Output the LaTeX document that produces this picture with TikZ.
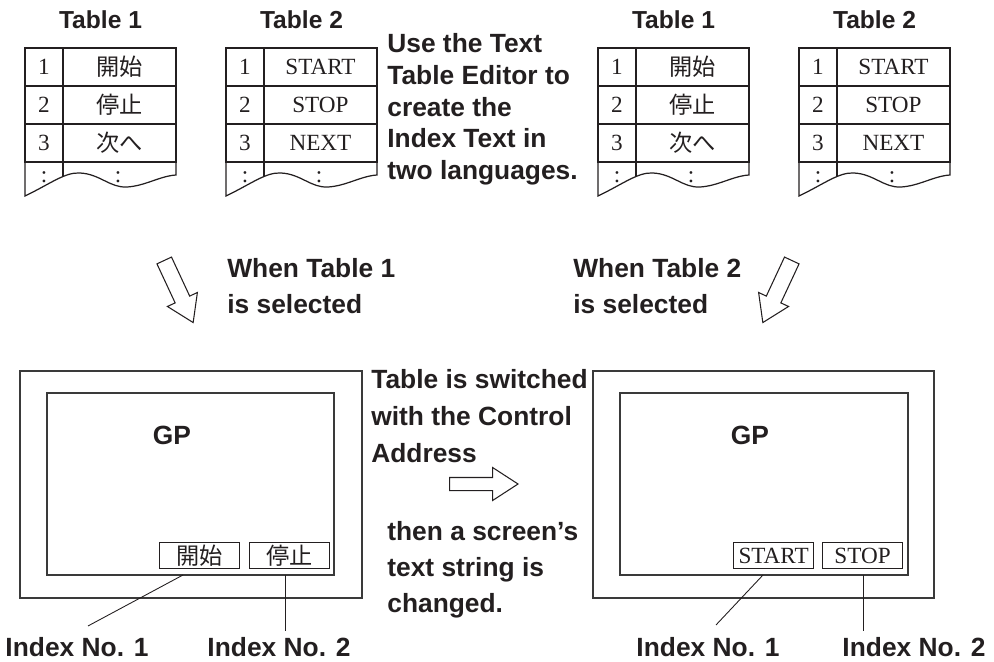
\documentclass[tikz,border=0pt]{standalone}
\usepackage{fontspec}
\setmainfont{Liberation Serif}
\setsansfont{Liberation Sans}
\newfontfamily\cjk{Noto Sans CJK JP}
\usetikzlibrary{positioning,calc,shapes.arrows}
\definecolor{ink}{HTML}{231F20}
\definecolor{framegray}{HTML}{3A3A3A}

\begin{document}
\begin{tikzpicture}[x=0.02cm,y=-0.02cm,
    lbl/.style={font=\sffamily\bfseries\fontsize{15}{20.5}\selectfont,text=ink,inner sep=0pt,align=left},
    ttl/.style={lbl,font=\sffamily\bfseries\fontsize{14}{17}\selectfont},
    numcell/.style={draw=ink,line width=0.7pt,minimum width=0.76cm,minimum height=0.76cm,inner sep=0pt,outer sep=0pt,font=\fontsize{13.2}{14}\selectfont,text=ink},
    txtcell/.style={numcell,minimum width=2.26cm},
    rule/.style={draw=ink,line width=0.7pt},
    hollow/.style={single arrow,draw=ink,line width=0.6pt,minimum height=1.37cm,inner sep=0.15cm,single arrow head extend=0.17cm,single arrow tip angle=66,anchor=tail},
    frame/.style={draw=framegray,line width=0.9pt},
    btn/.style={draw=ink,line width=0.7pt,minimum width=1.6cm,minimum height=0.52cm,inner sep=0pt,font=\fontsize{13.2}{14}\selectfont,text=ink},
    lead/.style={draw=ink,line width=0.5pt}]
  \useasboundingbox (0,0) rectangle (994,662);

  % the four text tables
  \foreach \t/\x/\n/\ra/\rb/\rc in {a/25/1/\cjk 開始/\cjk 停止/\cjk 次へ, b/226/2/START/STOP/NEXT,
      c/598/1/\cjk 開始/\cjk 停止/\cjk 次へ, d/799/2/START/STOP/NEXT} {
    \node[ttl] (\t-ttl) at (\x+75.5,20) {Table \n};
    \node[numcell,anchor=north west] (\t-n1) at (\x,48) {1};
    \node[txtcell,right=0pt of \t-n1] (\t-t1) {\ra};
    \node[numcell,below=0pt of \t-n1] (\t-n2) {2};
    \node[txtcell,right=0pt of \t-n2] (\t-t2) {\rb};
    \node[numcell,below=0pt of \t-n2] (\t-n3) {3};
    \node[txtcell,right=0pt of \t-n3] (\t-t3) {\rc};
    \draw[rule] (\t-n3.south west) -- (\x,196)
      .. controls (\x+25,184) and (\x+40,172) .. (\x+55,173)
      .. controls (\x+75,174) and (\x+85,188) .. (\x+102,187)
      .. controls (\x+120,186) and (\x+135,176) .. (\x+151,175) -- (\t-t3.south east);
    \draw[rule] (\t-n3.south east) -- ++(0,15);
    \node[numcell,draw=none,minimum size=0pt] (\t-d1) at (\x+19,177) {:};
    \node[numcell,draw=none,minimum size=0pt] (\t-d2) at (\x+93,177) {:};
  }

  \node[lbl,anchor=north west,font=\sffamily\bfseries\fontsize{15}{18.1}\selectfont] (howto) at (387,33)
    {Use the Text\\Table Editor to\\create the\\Index Text in\\two languages.};

  % selection arrows
  \node[hollow,rotate=-65] (selA) at (164,260) {};
  \node[lbl,anchor=north west] (whenA) at (227,258) {When Table 1\\is selected};
  \node[hollow,rotate=-115] (selB) at (792,260) {};
  \node[lbl,anchor=north west] (whenB) at (573,258) {When Table 2\\is selected};

  % left screen
  \draw[frame] (20,371) rectangle (362,598);
  \draw[frame,line width=0.7pt] (47,393) rectangle (334,575);
  \node[lbl] (l-gp) at (172,435) {GP};
  \node[btn,anchor=north west] (l-b1) at (159,542) {\cjk 開始};
  \node[btn,anchor=north west] (l-b2) at (249,542) {\cjk 停止};
  \coordinate (l-p1) at (183,575);
  \coordinate (l-p2) at (285,575);
  \node[lbl] (l-idx1) at (77,647) {Index No. 1};
  \node[lbl] (l-idx2) at (279,647) {Index No. 2};
  \draw[lead] (l-p1) -- ($(l-idx1.north)+(11,-11)$);
  \draw[lead,shorten >=0.12cm] (l-p2) -- (l-p2 |- l-idx2.north);

  % switching note
  \node[lbl,anchor=north west,font=\sffamily\bfseries\fontsize{15}{21}\selectfont] (switch) at (371,369)
    {Table is switched\\with the Control\\Address};
  \node[hollow,inner sep=0.12cm,single arrow head extend=0.2cm] (swArr) at (449,484) {};
  \node[lbl,anchor=north west] (change) at (387,521)
    {then a screen’s\\text string is\\changed.};

  % right screen
  \draw[frame] (593,371) rectangle (934,598);
  \draw[frame,line width=0.7pt] (620,393) rectangle (908,575);
  \node[lbl] (r-gp) at (750,435) {GP};
  \node[btn,anchor=north west] (r-b1) at (733,542) {START};
  \node[btn,anchor=north west] (r-b2) at (822,542) {STOP};
  \coordinate (r-p1) at (763,575);
  \coordinate (r-p2) at (863,575);
  \node[lbl] (r-idx1) at (708,647) {Index No. 1};
  \node[lbl] (r-idx2) at (914,647) {Index No. 2};
  \draw[lead] (r-p1) -- ($(r-idx1.north)+(8,-12)$);
  \draw[lead,shorten >=0.12cm] (r-p2) -- (r-p2 |- r-idx2.north);
\end{tikzpicture}
\end{document}
